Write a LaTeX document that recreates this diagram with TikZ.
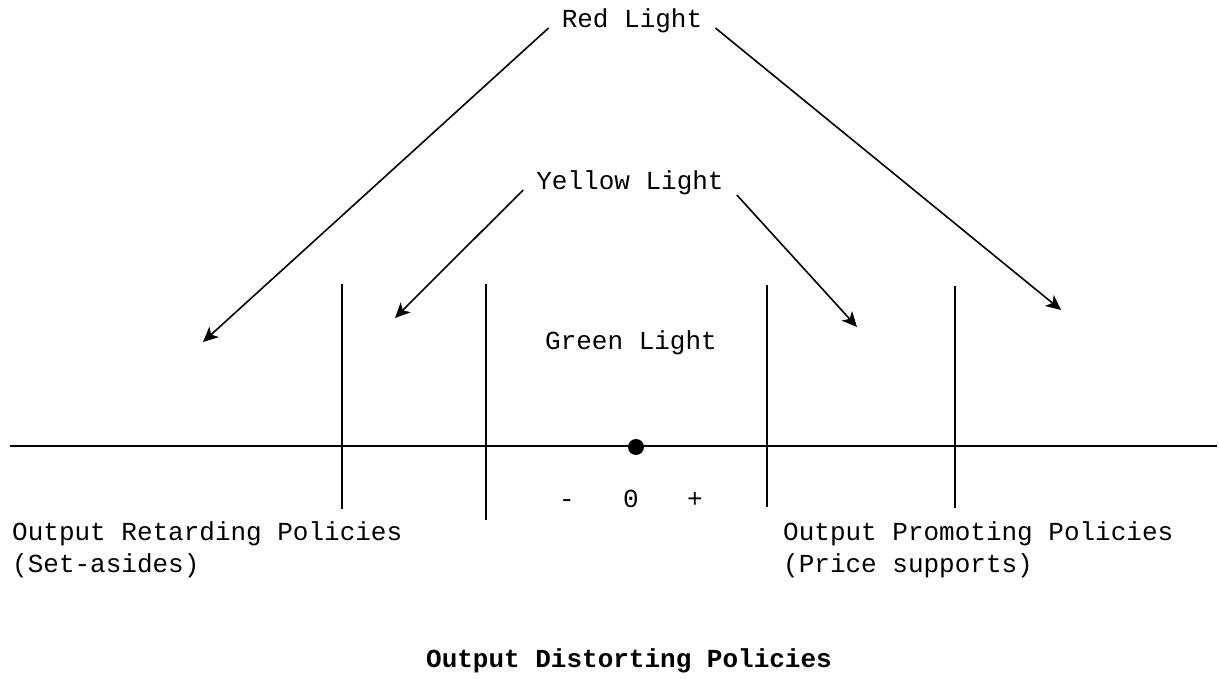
\documentclass[tikz,border=0pt]{standalone}
\usepackage{fontspec}
\setmonofont{Liberation Mono}
\usetikzlibrary{arrows.meta,positioning,calc}
\tikzset{LABEL/.style={font=\ttfamily\fontsize{26}{32}\selectfont, inner sep=0pt, align=left}}
\tikzset{LIGHT/.style={LABEL, inner xsep=13pt}}
\tikzset{TITLE/.style={LABEL, font=\ttfamily\bfseries\fontsize{26}{32}\selectfont}}
\tikzset{ARROW/.style={line width=1.6pt, -{Stealth[length=15pt,width=14pt,inset=4pt]}}}
\tikzset{MARK/.style={line width=1.3pt}}
\tikzset{AXIS/.style={line width=2.4pt}}

\begin{document}
\begin{tikzpicture}[x=1pt,y=-1pt]
\useasboundingbox (0,0) rectangle (1219,679);

% lights
\node[LIGHT, anchor=base] (n_red) at (632,28) {Red Light};
\node[LIGHT, anchor=base] (n_yellow) at (630,190) {Yellow Light};
\node[LIGHT, anchor=base] (n_green) at (631,349) {Green Light};

\coordinate (c_red_left) at (203,342);
\coordinate (c_red_right) at (1061,310);
\coordinate (c_yellow_left) at (395,318);
\coordinate (c_yellow_right) at (857,327);

\draw[ARROW] (n_red.base west) -- (c_red_left);
\draw[ARROW] (n_red.base east) -- (c_red_right);
\draw[ARROW] (n_yellow.base west) -- (c_yellow_left);
\draw[ARROW] ($(n_yellow.base east)+(0,5)$) -- (c_yellow_right);

% axis
\coordinate (c_axis_left) at (10,446);
\coordinate (c_axis_right) at (1217,446);
\coordinate (c_zero) at (636,447);
\draw[AXIS] (c_axis_left) -- (c_axis_right);
\fill (c_zero) circle (8);

% zone borders
\foreach \xb/\yt/\yb in {342/284/509, 486/284/520, 767/285/507, 955/286/508}
  \draw[MARK] (\xb,\yt) -- (\xb,\yb);

\node[LABEL, anchor=base] (n_minus) at (567,507) {-};
\node[LABEL, anchor=base] (n_zero) at (631,507) {0};
\node[LABEL, anchor=base] (n_plus) at (695,507) {+};

% policies (base = last line)
\node[LABEL, anchor=base west] (n_retard) at (12,572) {Output Retarding Policies\\(Set-asides)};
\node[LABEL, anchor=base west] (n_promote) at (783,572) {Output Promoting Policies\\(Price supports)};

\node[TITLE, anchor=base] (n_title) at (629,667) {Output Distorting Policies};

\end{tikzpicture}
\end{document}
